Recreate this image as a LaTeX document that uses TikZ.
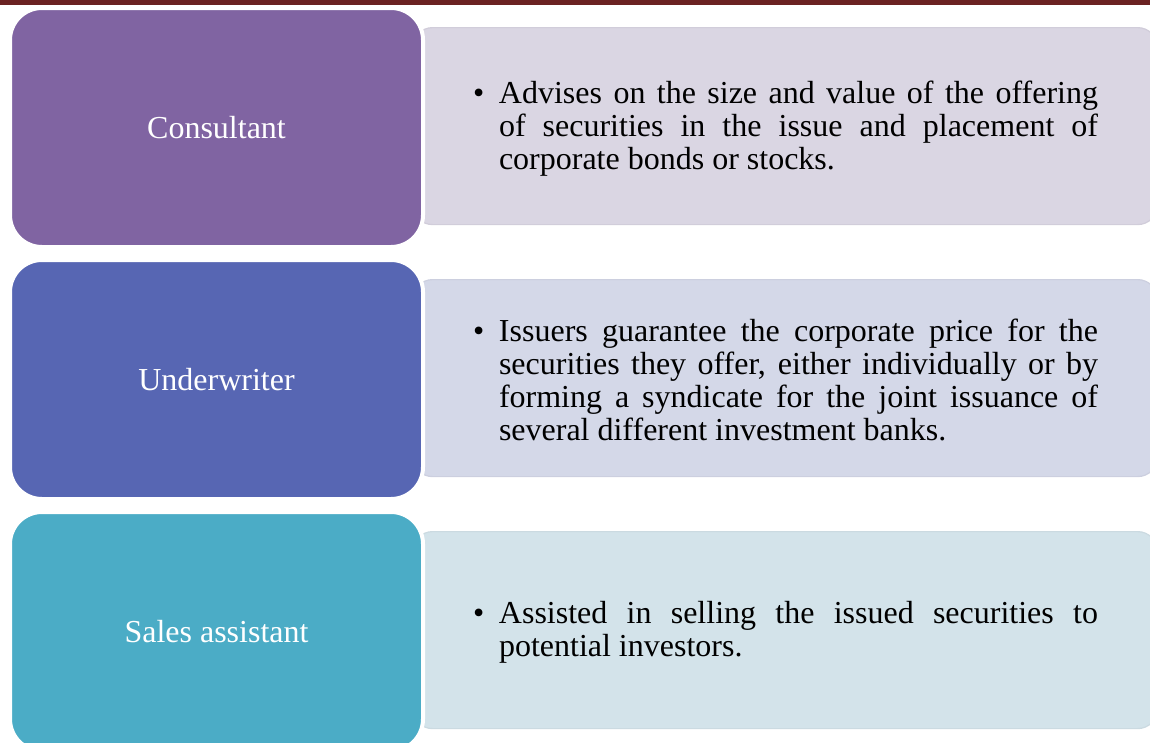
\documentclass[tikz,border=0pt]{standalone}
\usepackage{fontspec}
\setmainfont{Liberation Serif}
\definecolor{barred}{HTML}{6B2222}
\definecolor{roleA}{HTML}{8064A2}
\definecolor{roleB}{HTML}{5766B3}
\definecolor{roleC}{HTML}{4BACC6}
\definecolor{descA}{HTML}{DAD6E3}
\definecolor{descB}{HTML}{D4D8E8}
\definecolor{descC}{HTML}{D3E3EA}
% one justified bullet paragraph with a hanging indent
\newcommand{\bulletpar}[1]{\parbox{625pt}{\tolerance=10000\hangindent=26pt\hangafter=1\noindent\makebox[26pt][l]{\textbullet}#1}}
\begin{document}
\begin{tikzpicture}[x=1pt,y=-1pt,
  rolebox/.style={draw=white, line width=4pt, rounded corners=32pt,
    minimum width=413pt, minimum height=239pt, anchor=north west,
    inner sep=0pt, text=white, font=\fontsize{32}{36}\selectfont},
  descbox/.style={line width=1.2pt, rounded corners=20pt,
    minimum width=745pt, minimum height=197pt, anchor=north west, inner sep=0pt},
  desctext/.style={inner sep=0pt, font=\fontsize{32}{33}\selectfont}]
\useasboundingbox (0,0) rectangle (1150,742);
\clip (0,0) rectangle (1150,742);
% top rule
\fill[barred] (0,0) rectangle (1150,5);
% description panels
\node[descbox, fill=descA, draw=descA!96!black] (desc1) at (412,27) {};
\node[descbox, fill=descB, draw=descB!96!black] (desc2) at (412,279) {};
\node[descbox, fill=descC, draw=descC!96!black] (desc3) at (412,531) {};
% role boxes
\node[rolebox, fill=roleA] (role1) at (8,6) {Consultant};
\node[rolebox, fill=roleB] (role2) at (8,258) {Underwriter};
\node[rolebox, fill=roleC] (role3) at (8,510) {Sales assistant};
% descriptions
\node[desctext] (text1) at (785.5,129) {\bulletpar{Advises on the size and value of the offering\linebreak of securities in the issue and placement of\linebreak corporate bonds or stocks.}};
\node[desctext] (text2) at (785.5,380) {\bulletpar{Issuers guarantee the corporate price for the\linebreak securities they offer, either individually or by\linebreak forming a syndicate for the joint issuance of\linebreak several different investment banks.}};
\node[desctext] (text3) at (785.5,632) {\bulletpar{Assisted in selling the issued securities to\linebreak potential investors.}};
\end{tikzpicture}
\end{document}
